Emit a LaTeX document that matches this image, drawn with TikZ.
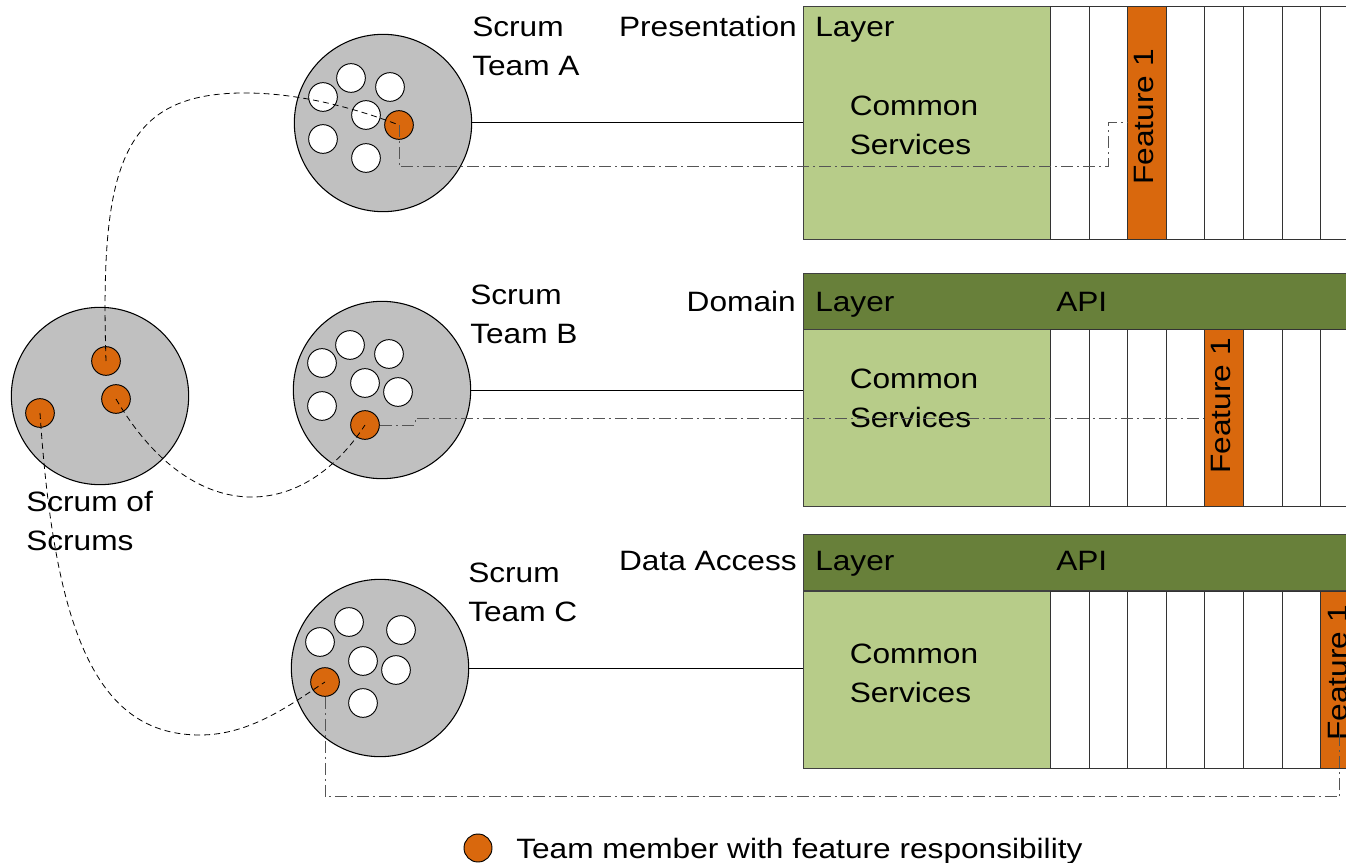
\documentclass[tikz,border=0pt]{standalone}
\usepackage{fontspec}
\setmainfont{Liberation Sans}[FakeStretch=1.13]
\usetikzlibrary{calc}
\definecolor{sgray}{HTML}{C0C0C0}
\definecolor{sorange}{RGB}{217,104,13}
\definecolor{lgreen}{RGB}{183,204,137}
\definecolor{dgreen}{RGB}{104,128,58}
\definecolor{edgec}{RGB}{64,64,64}
\definecolor{ddgray}{RGB}{85,85,85}
\begin{document}
\begin{tikzpicture}[x=0.75pt,y=-0.75pt,
 team/.style={circle,draw=black,fill=sgray,line width=0.8pt,minimum size=133pt,inner sep=0},
 member/.style={circle,draw=black,fill=white,line width=0.7pt,minimum size=21.5pt,inner sep=0},
 lead/.style={member,fill=sorange},
 lbl/.style={font=\fontsize{21}{29.25}\selectfont,inner sep=0,align=left},
 body/.style={draw=edgec,fill=lgreen,line width=0.8pt,inner sep=0,anchor=north west,minimum width=185.25pt},
 band/.style={draw=edgec,fill=dgreen,line width=0.8pt,inner sep=0,anchor=north west,minimum width=417.75pt,minimum height=42pt},
 col/.style={draw=black!80,fill=white,line width=0.7pt,inner sep=0,anchor=north west,minimum width=28.95pt},
 feat/.style={col,fill=sorange},
 link/.style={line width=0.75pt},
 sos/.style={line width=0.6pt,dash pattern=on 4.5pt off 3pt},
 featline/.style={draw=ddgray,line width=0.75pt,dash pattern=on 9pt off 3pt on 1.5pt off 3pt},
]
\useasboundingbox (0,0) rectangle (1346,863);
\clip (0,0) rectangle (1346,863);

% ---------- Presentation layer ----------
\node[body,minimum height=174.75pt] (bodyA) at (803,6) {};
\foreach \i in {0,1,3,4,5,6,7}{\node[col,minimum height=174.75pt] at (1050+\i*38.6,6) {};}
\node[feat,minimum height=174.75pt] (fA) at (1050+2*38.6,6) {};
\node[lbl,rotate=90] (ftA) at (1144,117) {Feature 1};
\node[lbl,anchor=base east] (presT) at (797,37) {Presentation};
\node[lbl,anchor=base west] (layA) at (815,37) {Layer};
\node[lbl,anchor=west] (csA) at (849.5,125) {Common\\Services};

% ---------- Domain layer ----------
\node[band] (bandB) at (803,273) {};
\node[body,minimum height=132.75pt] (bodyB) at (803,329) {};
\foreach \i in {0,1,2,3,5,6,7}{\node[col,minimum height=132.75pt] at (1050+\i*38.6,329) {};}
\node[feat,minimum height=132.75pt] (fB) at (1050+4*38.6,329) {};
\node[lbl,rotate=90] (ftB) at (1221,406) {Feature 1};
\node[lbl,anchor=base east] (domT) at (796,311) {Domain};
\node[lbl,anchor=base west] (layB) at (815,311) {Layer};
\node[lbl,anchor=base west] (apiB) at (1056,311) {API};
\node[lbl,anchor=west] (csB) at (849.5,398.5) {Common\\Services};

% ---------- Data Access layer ----------
\node[band] (bandC) at (803,534) {};
\node[body,minimum height=132.75pt] (bodyC) at (803,591) {};
\foreach \i in {0,1,2,3,4,5,6}{\node[col,minimum height=132.75pt] at (1050+\i*38.6,591) {};}
\node[feat,minimum height=132.75pt] (fC) at (1050+7*38.6,591) {};
\node[lbl,rotate=90] (ftC) at (1338,673) {Feature 1};
\node[lbl,anchor=base east] (datT) at (797,570) {Data Access};
\node[lbl,anchor=base west] (layC) at (815,570) {Layer};
\node[lbl,anchor=base west] (apiC) at (1056,570) {API};
\node[lbl,anchor=west] (csC) at (849.5,673) {Common\\Services};

% ---------- Teams ----------
\node[team] (A) at (383,123) {};
\node[member] (a1) at (351,78) {};
\node[member] (a2) at (390,87) {};
\node[member] (a3) at (323,97) {};
\node[member] (a4) at (366,115) {};
\node[member] (a5) at (323,139) {};
\node[member] (a6) at (366,158) {};
\node[lead] (a7) at (399,125) {};

\node[team] (B) at (382,390) {};
\node[member] (b1) at (350,345) {};
\node[member] (b2) at (389,354) {};
\node[member] (b3) at (322,363) {};
\node[member] (b4) at (365,383) {};
\node[member] (b5) at (398,392) {};
\node[member] (b6) at (322,406) {};
\node[lead] (b7) at (365,425) {};

\node[team] (C) at (380,668) {};
\node[member] (c1) at (349,622) {};
\node[member] (c2) at (401,630) {};
\node[member] (c3) at (320,642) {};
\node[member] (c4) at (363,661) {};
\node[member] (c5) at (396,670) {};
\node[member] (c6) at (363,703) {};
\node[lead] (c7) at (325,682) {};

\node[team] (S) at (100,396) {};
\node[lead] (s1) at (106,361) {};
\node[lead] (s2) at (116,399) {};
\node[lead] (s3) at (40,413) {};

\node[lbl,anchor=west] (tA) at (472,46.5) {Scrum\\Team A};
\node[lbl,anchor=west] (tB) at (470,314) {Scrum\\Team B};
\node[lbl,anchor=west] (tC) at (468,592) {Scrum\\Team C};
\node[lbl,anchor=west] (tS) at (26,521.5) {Scrum of\\Scrums};

% ---------- Connectors ----------
\draw[link] (A.east) -- (A.east -| bodyA.west);
\draw[link] (B.east) -- (B.east -| bodyB.west);
\draw[link] (C.east) -- (C.east -| bodyC.west);

\coordinate (aturn) at (1108,167);
\draw[featline] (a7.center) |- (aturn) |- (fA.west);
\coordinate (bstep) at (415,418);
\draw[featline] (b7.east) -- (bstep |- b7.east) -- (bstep) -- (bstep -| fB.west);
\draw[featline] (c7.south) |- ($(fC.south)+(0,28)$) -- ($(fC.south)+(0,-35)$);

\draw[sos] (s1.center) .. controls (100,170) and (120,95) .. (240,93)
           .. controls (300,92) and (360,110) .. (a7.center);
\draw[sos] (s2.center) .. controls (190,525) and (300,525) .. (b7.center);
\draw[sos] (s3.center) .. controls (55,640) and (100,735) .. (200,735)
           .. controls (250,735) and (290,705) .. (c7.center);

% ---------- Legend ----------
\node[lead,minimum size=21pt] (leg) at (478,848) {};
\node[lbl,anchor=base west] (legT) at (516,858) {Team member with feature responsibility};
\end{tikzpicture}
\end{document}
